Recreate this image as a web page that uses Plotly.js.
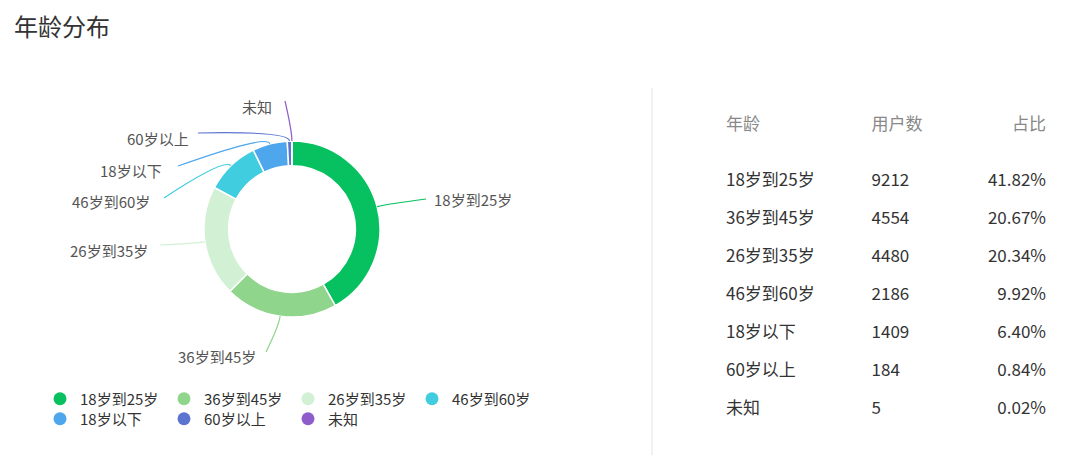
<!DOCTYPE html>
<html>
<head>
<meta charset="utf-8">
<script src="https://cdn.plot.ly/plotly-3.0.1.min.js"></script>
<style>
  html, body { margin: 0; padding: 0; background: #fff; }
  #chart { width: 1080px; height: 476px; }
</style>
</head>
<body>
<div id="chart"></div>
<script>
/* Age distribution: donut with outside labels + summary table */

const ageGroups = ["18岁到25岁", "36岁到45岁", "26岁到35岁", "46岁到60岁", "18岁以下", "60岁以上", "未知"];
const userCounts = [9212, 4554, 4480, 2186, 1409, 184, 5];
const shares = ["41.82%", "20.67%", "20.34%", "9.92%", "6.40%", "0.84%", "0.02%"];
const tableHeader = ["年龄", "用户数", "占比"];

const COLORS = ["#07c160", "#8fd58b", "#d2f0d4", "#41cde0", "#4ea6ec", "#5b74cf", "#8e5dcb"];
const FONT = "Noto Sans CJK SC, Noto Sans, sans-serif";

const W = 1080, H = 476;
const px = x => x / W;
const py = y => 1 - y / H;

// donut geometry (pixels)
const CX = 292, CY = 229, R = 88;

// where each leader line ends and where its text sits
const leaderEnd = [[426, 199], [266, 352], [160, 245], [164, 198], [178, 166], [198, 133], [285, 101]];
const labelPos  = [[432, 199, "left"], [258, 356, "right"], [150, 250, "right"], [152, 201, "right"],
                   [164, 170, "right"], [191, 138, "right"], [274, 107, "right"]];

const total = userCounts.reduce((a, b) => a + b, 0);

const shapes = [];
const annotations = [];
let cum = 0;
userCounts.forEach((v, i) => {
  const mid = (cum + v / 2) / total;
  cum += v;
  const th = mid * 2 * Math.PI;
  const ex = CX + R * Math.sin(th), ey = CY - R * Math.cos(th);
  const kx = CX + (R + 10) * Math.sin(th), ky = CY - (R + 10) * Math.cos(th);
  const [lx, ly] = leaderEnd[i];
  shapes.push({
    type: "path", xref: "paper", yref: "paper",
    path: `M ${px(ex)},${py(ey)} Q ${px(kx)},${py(ky)} ${px(lx)},${py(ly)}`,
    line: { color: COLORS[i], width: 1.2 },
  });
  const [tx, ty, side] = labelPos[i];
  annotations.push({
    xref: "paper", yref: "paper", x: px(tx), y: py(ty),
    xanchor: side, yanchor: "middle", showarrow: false,
    text: ageGroups[i],
    font: { family: FONT, size: 15, color: "#555" },
  });
});

// divider between chart and table
shapes.push({
  type: "line", xref: "paper", yref: "paper",
  x0: px(652), x1: px(652), y0: py(88), y1: py(455),
  line: { color: "#ececec", width: 1.5 },
});

const pie = {
  type: "pie",
  values: userCounts,
  labels: ageGroups,
  sort: false,
  direction: "clockwise",
  rotation: 0,
  hole: 0.72,
  textinfo: "none",
  showlegend: false,
  marker: { colors: COLORS, line: { color: "#fff", width: 1.5 } },
  domain: { x: [px(CX - R), px(CX + R)], y: [py(CY + R), py(CY - R)] },
};

// legend entries as round markers
const legendDots = ageGroups.map((g, i) => ({
  type: "scatter", mode: "markers",
  x: [null], y: [null],
  name: g,
  marker: { color: COLORS[i], size: 13, symbol: "circle" },
  legend: i < 4 ? "legend" : "legend2",
  hoverinfo: "skip",
}));

const table = {
  type: "table",
  domain: { x: [px(718), px(1055)], y: [0.02, py(109)] },
  columnwidth: [146, 100, 91],
  header: {
    values: tableHeader,
    align: ["left", "left", "right"],
    height: 56,
    line: { width: 0, color: "#fff" },
    fill: { color: "#fff" },
    font: { family: FONT, size: 17, color: "#888" },
  },
  cells: {
    values: [ageGroups, userCounts.map(String), shares],
    align: ["left", "left", "right"],
    height: 38,
    line: { width: 0, color: "#fff" },
    fill: { color: "#fff" },
    font: { family: FONT, size: 17, color: "#333" },
  },
};

const legendCommon = {
  orientation: "h",
  xanchor: "left", yanchor: "middle",
  x: px(40),
  entrywidth: 79, entrywidthmode: "pixels",
  font: { family: FONT, size: 15, color: "#333" },
  bgcolor: "rgba(0,0,0,0)",
  itemclick: false, itemdoubleclick: false,
};

const layout = {
  width: W, height: H,
  margin: { l: 0, r: 0, t: 0, b: 0 },
  paper_bgcolor: "#fff",
  plot_bgcolor: "#fff",
  title: {
    text: "年龄分布",
    x: px(14), xanchor: "left", y: py(28), yanchor: "middle",
    font: { family: FONT, size: 24, color: "#333" },
  },
  xaxis: { visible: false, fixedrange: true },
  yaxis: { visible: false, fixedrange: true },
  showlegend: true,
  legend: Object.assign({}, legendCommon, { y: py(399) }),
  legend2: Object.assign({}, legendCommon, { y: py(419) }),
  shapes,
  annotations,
};

Plotly.newPlot("chart", [pie, table, ...legendDots], layout, { displayModeBar: false, staticPlot: true });
</script>
</body>
</html>
